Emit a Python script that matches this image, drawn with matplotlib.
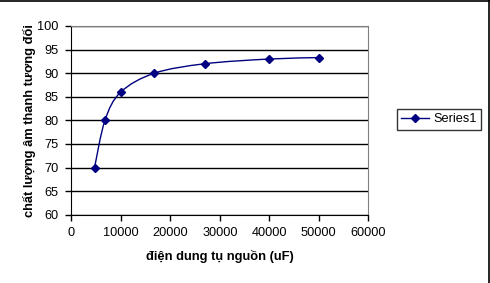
import matplotlib
matplotlib.use("Agg")
import matplotlib.pyplot as plt
import numpy as np
from matplotlib.path import Path
from matplotlib.patches import PathPatch
from matplotlib.lines import Line2D

# data
capacitance = [4700, 6800, 10000, 16800, 27000, 40000, 50000]
quality = [70, 80, 86, 90, 92, 93, 93.3]
series_name = "Series1"
x_label = "điện dung tụ nguồn (uF)"
y_label = "chất lượng âm thanh tương đối"

plt.rcParams['font.family'] = ['Liberation Sans', 'DejaVu Sans']
navy = '#000080'

fig = plt.figure(figsize=(4.9, 2.83), dpi=100)
ax = fig.add_axes([71.3 / 490, 1 - 214.7 / 283, 297 / 490, 188.7 / 283])

# smoothed line like Excel (cardinal bezier through the points)
pts = np.column_stack([capacitance, quality]).astype(float)
ext = np.vstack([pts[0], pts, pts[-1]])
verts = [tuple(pts[0])]
codes = [Path.MOVETO]
for i in range(len(pts) - 1):
    p0, p1, p2, p3 = ext[i], ext[i + 1], ext[i + 2], ext[i + 3]
    c1 = p1 + (p2 - p0) / 6
    c2 = p2 - (p3 - p1) / 6
    verts += [tuple(c1), tuple(c2), tuple(p2)]
    codes += [Path.CURVE4] * 3
ax.add_patch(PathPatch(Path(verts, codes), facecolor='none', edgecolor=navy, lw=1.0, zorder=3))
ax.plot(capacitance, quality, ls='none', marker='D', ms=4.5, color=navy, zorder=4)

ax.set_xlim(0, 60000)
ax.set_ylim(60, 100)
ax.set_xticks(np.arange(0, 60001, 10000))
ax.set_yticks(np.arange(60, 101, 5))
ax.yaxis.grid(True, color='black', lw=1.0)
ax.set_axisbelow(True)
for side in ['top', 'right']:
    ax.spines[side].set_color('#808080')
for side in ['left', 'bottom']:
    ax.spines[side].set_color('black')
ax.tick_params(direction='out', length=4, width=1, labelsize=9.2, pad=5)

ax.set_xlabel(x_label, fontsize=9.3, fontweight='bold', labelpad=8)
ax.set_ylabel(y_label, fontsize=9.3, fontweight='bold', labelpad=1)

handle = Line2D([], [], color=navy, marker='D', ms=4.5, lw=1.0)
leg = fig.legend([handle], [series_name], loc='center', bbox_to_anchor=(439 / 490, 1 - 119.5 / 283),
                 fontsize=9.2, frameon=True, fancybox=False, edgecolor='black',
                 handlelength=2.2, borderpad=0.35, handletextpad=0.3)
leg.get_frame().set_linewidth(1.0)

# chart area border (top and right visible in the reference)
fig.add_artist(Line2D([0, 1], [1 - 0.5 / 283, 1 - 0.5 / 283], transform=fig.transFigure, color='black', lw=1.2))
fig.add_artist(Line2D([1 - 1.5 / 490, 1 - 1.5 / 490], [0, 1], transform=fig.transFigure, color='black', lw=1.2))

fig.savefig("out.png", dpi=100)
